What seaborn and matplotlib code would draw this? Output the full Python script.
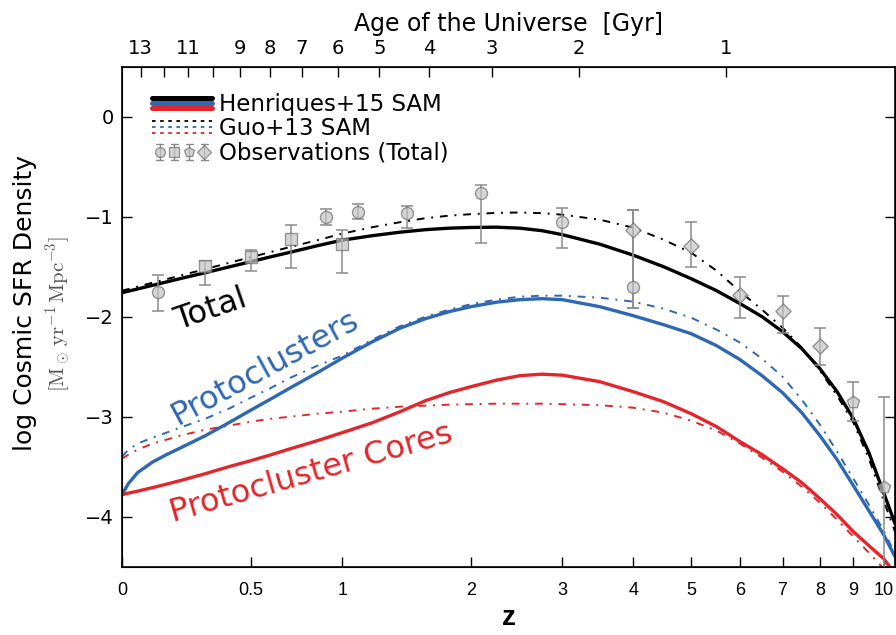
import numpy as np
import pandas as pd
import matplotlib
matplotlib.use('Agg')
import matplotlib.pyplot as plt
import seaborn as sns
from matplotlib.legend_handler import HandlerBase
from matplotlib.lines import Line2D

# --- model curves ---
z_grid = [0, 0.02, 0.05, 0.1, 0.15, 0.2, 0.3, 0.4, 0.5, 0.6, 0.7, 0.85, 1.0, 1.2, 1.4, 1.6, 1.8,
          2.0, 2.25, 2.5, 2.75, 3.0, 3.5, 4.0, 4.5, 5.0, 5.5, 6.0, 6.5, 7.0, 7.5, 8.0, 8.5,
          9.0, 9.5, 10.0, 10.4]
total_hen = [-1.76, -1.745, -1.723, -1.687, -1.653, -1.62, -1.56, -1.503, -1.45, -1.40, -1.355,
             -1.29, -1.235, -1.19, -1.155, -1.13, -1.115, -1.108, -1.105, -1.115, -1.14, -1.18,
             -1.275, -1.385, -1.50, -1.62, -1.74, -1.87, -2.00, -2.15, -2.32, -2.52, -2.75,
             -3.02, -3.36, -3.76, -4.07]
total_guo = [-1.74, -1.724, -1.70, -1.661, -1.625, -1.59, -1.524, -1.462, -1.405, -1.352, -1.302,
             -1.235, -1.17, -1.105, -1.055, -1.015, -0.99, -0.975, -0.962, -0.958, -0.965, -0.98,
             -1.03, -1.11, -1.23, -1.36, -1.54, -1.75, -1.93, -2.11, -2.31, -2.54, -2.79,
             -3.06, -3.42, -3.84, -4.15]
pc_hen = [-3.78, -3.67, -3.56, -3.455, -3.38, -3.315, -3.19, -3.06, -2.935, -2.82, -2.71,
          -2.56, -2.415, -2.25, -2.115, -2.02, -1.95, -1.90, -1.855, -1.83, -1.82, -1.83,
          -1.90, -1.99, -2.08, -2.17, -2.29, -2.43, -2.59, -2.76, -2.96, -3.19, -3.43,
          -3.69, -3.94, -4.18, -4.40]
pc_guo = [-3.40, -3.33, -3.27, -3.21, -3.16, -3.11, -3.02, -2.92, -2.81, -2.71, -2.61,
          -2.49, -2.39, -2.23, -2.095, -2.00, -1.93, -1.875, -1.83, -1.80, -1.79, -1.79,
          -1.81, -1.85, -1.92, -2.01, -2.13, -2.26, -2.42, -2.60, -2.83, -3.08, -3.35,
          -3.62, -3.88, -4.14, -4.37]
core_hen = [-3.78, -3.765, -3.745, -3.71, -3.675, -3.64, -3.57, -3.50, -3.44, -3.38, -3.32,
            -3.24, -3.16, -3.06, -2.95, -2.84, -2.76, -2.70, -2.635, -2.59, -2.575, -2.585,
            -2.65, -2.75, -2.85, -2.97, -3.10, -3.25, -3.38, -3.52, -3.66, -3.82, -3.98,
            -4.15, -4.29, -4.42, -4.57]
core_guo = [-3.42, -3.38, -3.33, -3.27, -3.23, -3.19, -3.13, -3.09, -3.05, -3.02, -3.00,
            -2.97, -2.95, -2.92, -2.90, -2.89, -2.88, -2.875, -2.87, -2.87, -2.87, -2.875,
            -2.885, -2.91, -2.96, -3.04, -3.14, -3.27, -3.41, -3.55, -3.70, -3.86, -4.03,
            -4.20, -4.36, -4.52, -4.66]

# --- observations (total) ---
circ_z = [0.12, 0.90, 1.10, 1.45, 2.10, 3.0, 4.0]
circ_y = [-1.75, -1.00, -0.95, -0.96, -0.76, -1.05, -1.70]
circ_lo = [0.19, 0.08, 0.07, 0.15, 0.50, 0.26, 0.21]
circ_hi = [0.17, 0.08, 0.08, 0.07, 0.08, 0.14, 0.77]
sq_z = [0.30, 0.50, 0.70, 1.0]
sq_y = [-1.49, -1.40, -1.22, -1.27]
sq_lo = [0.19, 0.14, 0.29, 0.29]
sq_hi = [0.05, 0.07, 0.14, 0.14]
dia_z = [4.0, 5.0, 6.0, 7.0, 8.0]
dia_y = [-1.13, -1.29, -1.78, -1.94, -2.29]
dia_lo = [0.78, 0.21, 0.23, 0.22, 0.19]
dia_hi = [0.20, 0.24, 0.18, 0.15, 0.18]
pent_z = [9.0, 10.0]
pent_y = [-2.85, -3.70]
pent_lo = [0.19, 0.90]
pent_hi = [0.20, 0.90]

z_ticks = [0, 0.5, 1, 2, 3, 4, 5, 6, 7, 8, 9, 10]
z_labels = ['0', '0.5', '1', '2', '3', '4', '5', '6', '7', '8', '9', '10']
age_ticks = [13, 12, 11, 10, 9, 8, 7, 6, 5, 4, 3, 2, 1]
age_labels = ['13', '', '11', '', '9', '8', '7', '6', '5', '4', '3', '2', '1']

BLACK = '#000000'
BLUE = '#2e68b2'
RED = '#e2262b'
GREY = '#8a8a8a'

sns.set_style('ticks')
plt.rcParams['font.family'] = ['DejaVu Sans']
plt.rcParams['mathtext.fontset'] = 'cm'
for k in ['text.color', 'axes.labelcolor', 'xtick.color', 'ytick.color', 'axes.edgecolor']:
    plt.rcParams[k] = 'black'


def fwd(z):
    return np.log10(np.clip(1 + np.asarray(z, dtype=float), 1e-6, None))


def inv(u):
    return 10 ** np.asarray(u, dtype=float) - 1


# flat LCDM age -> redshift, for the top axis
H0, OM, OL = 67.7, 0.307, 0.693
T_PREF = 2.0 / (3.0 * np.sqrt(OL)) * 977.8 / H0


def age_to_z(t):
    t = np.asarray(t, dtype=float)
    return (np.sqrt(OM / OL) * np.sinh(t / T_PREF)) ** (-2.0 / 3.0) - 1


fig = plt.figure(figsize=(8.96, 6.35), dpi=100)
ax = fig.add_axes([0.1362, 0.1076, 0.8627, 0.7874])
ax.set_xscale('function', functions=(fwd, inv))

curves = pd.DataFrame({'z': z_grid, 'total_hen': total_hen, 'total_guo': total_guo,
                       'pc_hen': pc_hen, 'pc_guo': pc_guo,
                       'core_hen': core_hen, 'core_guo': core_guo})

dashdot = (0, (4, 3.5, 1, 3.5))
for col, c in [('total_guo', BLACK), ('pc_guo', BLUE), ('core_guo', RED)]:
    sns.lineplot(data=curves, x='z', y=col, color=c, lw=1.4, linestyle=dashdot, ax=ax)
for col, c in [('total_hen', BLACK), ('pc_hen', BLUE), ('core_hen', RED)]:
    sns.lineplot(data=curves, x='z', y=col, color=c, lw=2.4, ax=ax)

# observations
for zs, ys, lo, hi, m, s in [(circ_z, circ_y, circ_lo, circ_hi, 'o', 75),
                             (sq_z, sq_y, sq_lo, sq_hi, 's', 70),
                             (dia_z, dia_y, dia_lo, dia_hi, 'D', 60),
                             (pent_z, pent_y, pent_lo, pent_hi, 'p', 85)]:
    ax.errorbar(zs, ys, yerr=[lo, hi], fmt='none', ecolor=GREY, elinewidth=1.1,
                capsize=4, capthick=1.1, zorder=4)
    sns.scatterplot(x=zs, y=ys, marker=m, s=s, color='#c4c4c4', edgecolor='#6f6f6f',
                    linewidth=1.0, alpha=0.7, zorder=5, ax=ax)

ax.set_xlim(0, 10.4)
ax.set_ylim(-4.5, 0.5)
ax.set_xticks(z_ticks)
ax.set_xticklabels(z_labels, fontfamily='Liberation Sans', fontsize=13)
ax.set_yticks([0, -1, -2, -3, -4])
ax.tick_params(axis='x', which='major', direction='in', length=7, width=1, pad=11, top=False)
ax.tick_params(axis='x', which='minor', bottom=False, top=False)
ax.tick_params(axis='y', direction='in', length=7, width=1, labelsize=14, pad=6, right=True)
ax.set_xlabel('z', fontsize=20, fontweight='bold', fontfamily='Liberation Sans', labelpad=4)
ax.set_ylabel('')
for sp in ax.spines.values():
    sp.set_linewidth(1.2)
    sp.set_color('black')

# top axis: age of the universe
ax2 = ax.twiny()
ax2.set_xscale('function', functions=(fwd, inv))
ax2.set_xlim(ax.get_xlim())
ax2.set_xticks(age_to_z(age_ticks))
ax2.set_xticklabels(age_labels, fontsize=14)
ax2.tick_params(axis='x', which='major', direction='in', length=7, width=1, pad=6)
ax2.tick_params(axis='x', which='minor', top=False, bottom=False)
ax2.set_xlabel('Age of the Universe  [Gyr]', fontsize=17, labelpad=6)

fig.text(0.028, 0.523, 'log Cosmic SFR Density', rotation=90, ha='center', va='center', fontsize=18)
fig.text(0.066, 0.505, r'$[\mathrm{M_\odot\,yr^{-1}\,Mpc^{-3}}]$', rotation=90,
         ha='center', va='center', fontsize=15, color='#555555')

# curve labels
ax.text(0.32, -1.93, 'Total', color=BLACK, fontsize=23, rotation=19,
        ha='center', va='center', rotation_mode='anchor')
ax.text(0.569, -2.51, 'Protoclusters', color=BLUE, fontsize=23, rotation=28.5,
        ha='center', va='center', rotation_mode='anchor')
ax.text(0.815, -3.57, 'Protocluster Cores', color=RED, fontsize=23, rotation=16,
        ha='center', va='center', rotation_mode='anchor')


# legend handles
class StackedLines(HandlerBase):
    def __init__(self, colors, lw, ls, gap):
        super().__init__()
        self.colors, self.lw, self.ls, self.gap = colors, lw, ls, gap

    def create_artists(self, legend, orig_handle, xdescent, ydescent, width, height, fontsize, trans):
        mid = height / 2 - ydescent
        arts = []
        for i, c in enumerate(self.colors):
            y = mid + (1 - i) * self.gap
            arts.append(Line2D([-xdescent, width - xdescent], [y, y], color=c, lw=self.lw,
                               linestyle=self.ls, transform=trans))
        return arts


class ObsHandler(HandlerBase):
    def create_artists(self, legend, orig_handle, xdescent, ydescent, width, height, fontsize, trans):
        mid = height / 2 - ydescent
        arts = []
        for i, m in enumerate(['o', 's', 'p', 'D']):
            x = -xdescent + width * (i + 0.5) / 4
            arts.append(Line2D([x, x], [mid - 0.5 * height, mid + 0.5 * height], color=GREY,
                               lw=1, transform=trans))
            for yy in (mid - 0.5 * height, mid + 0.5 * height):
                arts.append(Line2D([x - 2.5, x + 2.5], [yy, yy], color=GREY, lw=1, transform=trans))
            arts.append(Line2D([x], [mid], marker=m, markersize=7, color='#c4c4c4',
                               markeredgecolor='#6f6f6f', alpha=0.7, transform=trans))
        return arts


h_hen, h_guo, h_obs = Line2D([], []), Line2D([], []), Line2D([], [])
ax.legend([h_hen, h_guo, h_obs], ['Henriques+15 SAM', 'Guo+13 SAM', 'Observations (Total)'],
          handler_map={h_hen: StackedLines([BLACK, BLUE, RED], 3.6, '-', 3.6),
                       h_guo: StackedLines([BLACK, BLUE, RED], 1.3, (0, (2, 2.5)), 4.3),
                       h_obs: ObsHandler()},
          loc='upper left', bbox_to_anchor=(0.027, 0.965), frameon=False, fontsize=16.5,
          handlelength=2.6, handletextpad=0.3, labelspacing=0.05, borderaxespad=0)

fig.savefig('out.png', dpi=100)
